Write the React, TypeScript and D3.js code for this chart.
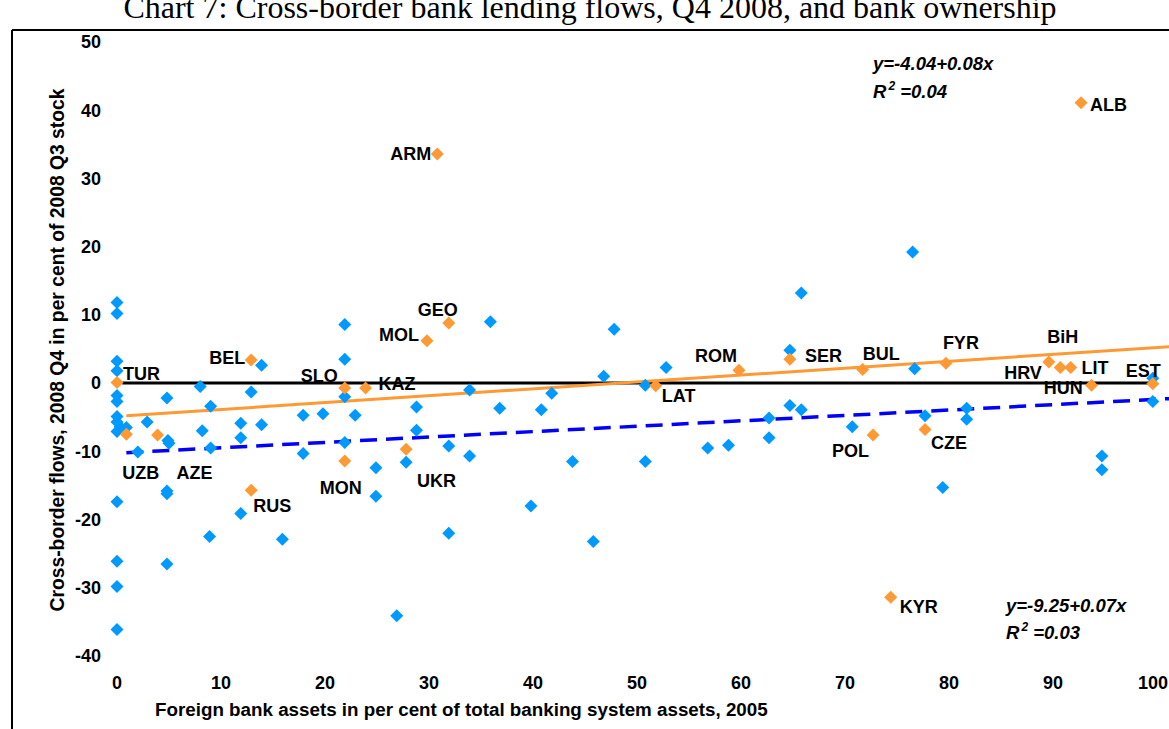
import React from "react";
import * as d3 from "d3";

// ---- data ----
const xTicks = [0, 10, 20, 30, 40, 50, 60, 70, 80, 90, 100];
const yTicks = [-40, -30, -20, -10, 0, 10, 20, 30, 40, 50];

// blue (unlabelled) countries: foreign bank share, cross-border flow
const blueShare = [
  0, 0, 0, 0, 0, 0, 0, 0, 0.3, 0, 0.9, 2.0, 2.9, 4.8, 4.9, 5.0, 8.0, 8.2, 9.0, 9.0,
  11.9, 11.9, 12.9, 13.9, 13.9, 17.9, 17.9, 19.8, 21.9, 21.9, 21.9, 22.9, 21.9, 24.9, 24.9,
  26.9, 27.8, 28.8, 28.8, 31.9, 31.9, 33.9, 33.9, 35.9, 36.8, 39.8, 40.8, 41.8, 43.8, 45.8,
  46.8, 47.8, 50.8, 50.8, 52.8, 56.8, 58.8, 62.7, 62.7, 64.7, 64.7, 65.8, 65.8, 70.7, 76.7,
  76.5, 77.7, 79.4, 81.7, 81.7, 94.7, 94.7, 99.6, 99.6,
  0, 0, 0, 0, 4.8, 4.8, 4.8, 8.9, 11.9, 15.9,
];
const blueFlow = [
  11.8, 10.2, 3.2, 1.8, -1.8, -2.7, -4.9, -5.7, -6.4, -7.1, -6.5, -10.1, -5.7, -2.2, -8.4, -8.8, -0.5, -7.0, -3.4, -9.5,
  -5.9, -8.0, -1.3, 2.6, -6.1, -4.7, -10.3, -4.5, 8.6, 3.5, -2.0, -4.7, -8.7, -12.4, -16.6,
  -34.1, -11.6, -3.5, -6.9, -9.2, -22.0, -1.0, -10.7, 9.0, -3.7, -18.0, -3.9, -1.5, -11.5, -23.2,
  1.0, 7.9, -0.3, -11.5, 2.3, -9.5, -9.1, -5.1, -8.0, 4.8, -3.3, 13.2, -3.9, -6.4, 2.1,
  19.2, -4.8, -15.3, -3.7, -5.3, -10.7, -12.7, 0.7, -2.7,
  -17.4, -26.1, -29.8, -36.1, -15.8, -16.2, -26.5, -22.5, -19.1, -22.9,
];

// orange (labelled) countries
const orangeLabels = [
  "TUR", "UZB", "AZE", "RUS", "BEL", "SLO", "KAZ", "MON", "UKR", "MOL", "GEO", "ARM", "LAT",
  "ROM", "SER", "BUL", "POL", "KYR", "CZE", "FYR", "HRV", "BiH", "HUN", "LIT", "EST", "ALB",
];
const orangeShare = [
  0, 0.9, 3.9, 12.9, 12.9, 21.9, 23.9, 21.9, 27.8, 29.8, 31.9, 30.8, 51.8,
  59.8, 64.7, 71.7, 72.7, 74.4, 77.7, 79.7, 89.6, 90.7, 91.7, 93.7, 99.6, 92.7,
];
const orangeFlow = [
  0.1, -7.5, -7.6, -15.7, 3.4, -0.7, -0.7, -11.4, -9.7, 6.2, 8.8, 33.6, -0.4,
  1.9, 3.5, 2.0, -7.6, -31.4, -6.8, 2.9, 3.1, 2.3, 2.3, -0.3, -0.1, 41.1,
];

// fitted lines as drawn
const orangeFit = { intercept: -4.88, slope: 0.101, from: 0.9, to: 101.3 };
const blueFit = { intercept: -10.27, slope: 0.079, from: 0.9, to: 101.3 };
const zeroLine = { from: 0.5, to: 99.6 };

// ---- layout (label offsets in px relative to marker) ----
const labelOffset: Record<string, [number, number, string]> = {
  TUR: [6, -2, "start"], UZB: [-4, 45, "start"], AZE: [19, 44, "start"], RUS: [2, 22, "start"],
  BEL: [-6, 4, "end"], SLO: [-7, -6, "end"], KAZ: [13, 2, "start"], MON: [-25, 33, "start"],
  UKR: [11, 38, "start"], MOL: [-8, 0, "end"], GEO: [-31, -7, "start"], ARM: [-6, 6, "end"],
  LAT: [6, 16, "start"], ROM: [-44, -8, "start"], SER: [15, 3, "start"], BUL: [0, -9, "start"],
  POL: [-41, 22, "start"], KYR: [9, 16, "start"], CZE: [6, 19, "start"], FYR: [-3, -14, "start"],
  HRV: [-7, 17, "end"], BiH: [-13, -24, "start"], HUN: [-27, 27, "start"], LIT: [-10, -11, "start"],
  EST: [-27, -7, "start"], ALB: [9, 8, "start"],
};

const W = 1169;
const H = 729;
const FONT = "'Liberation Sans', Arial, sans-serif";
const ORANGE = "#FF9933";
const BLUE_PT = "#0099FF";

export default function App() {
  const x = d3.scaleLinear().domain([0, 100]).range([117, 1157]);
  const y = d3.scaleLinear().domain([-40, 50]).range([656, 42]);
  const fitPath = (f: { intercept: number; slope: number; from: number; to: number }) =>
    d3.line<number>().x((v) => x(v)).y((v) => y(f.intercept + f.slope * v))([f.from, f.to]) || "";
  const zeroPath = d3.line<number>().x((v) => x(v)).y(() => y(0))([zeroLine.from, zeroLine.to]) || "";
  const diamondPath = "M0,-6.5L6.5,0L0,6.5L-6.5,0Z";
  const lastTick = xTicks[xTicks.length - 1];

  return (
    <svg width={W} height={H} style={{ position: "absolute", left: 0, top: 0, background: "#fff" }}>
      <rect x={0} y={0} width={W} height={H} fill="#fff" />
      <text x={590} y={18} textAnchor="middle" fontFamily="'Liberation Serif', 'Times New Roman', serif" fontSize={32}>
        Chart 7: Cross-border bank lending flows, Q4 2008, and bank ownership
      </text>
      <line x1={12} y1={30} x2={W} y2={30} stroke="#000" strokeWidth={2} />
      <line x1={12} y1={30} x2={12} y2={H} stroke="#000" strokeWidth={2} />

      {yTicks.map((t) => (
        <text key={"y" + t} x={101} y={y(t)} dy="0.35em" textAnchor="end" fontFamily={FONT} fontWeight="bold" fontSize={18}>
          {t}
        </text>
      ))}
      {xTicks.map((t) => (
        <text key={"x" + t} x={t === lastTick ? W - 1 : x(t)} y={689} textAnchor={t === lastTick ? "end" : "middle"}
          fontFamily={FONT} fontWeight="bold" fontSize={18}>
          {t}
        </text>
      ))}
      <text x={155} y={716} fontFamily={FONT} fontWeight="bold" fontSize={18.8}>
        Foreign bank assets in per cent of total banking system assets, 2005
      </text>
      <text transform={`translate(64,350) rotate(-90)`} textAnchor="middle" fontFamily={FONT} fontWeight="bold" fontSize={19.3}>
        Cross-border flows, 2008 Q4 in per cent of 2008 Q3 stock
      </text>

      <path d={zeroPath} stroke="#000" strokeWidth={3} fill="none" />
      <path d={fitPath(orangeFit)} stroke={ORANGE} strokeWidth={3} fill="none" />
      <path d={fitPath(blueFit)} stroke="#0000FF" strokeWidth={3.5} strokeDasharray="17,9" fill="none" />

      {blueShare.map((v, i) => (
        <path key={"b" + i} d={diamondPath} transform={`translate(${x(v)},${y(blueFlow[i])})`} fill={BLUE_PT} />
      ))}
      {orangeShare.map((v, i) => (
        <path key={"o" + i} d={diamondPath} transform={`translate(${x(v)},${y(orangeFlow[i])})`} fill={ORANGE} />
      ))}
      {orangeLabels.map((lab, i) => {
        const [dx, dy, anchor] = labelOffset[lab];
        return (
          <text key={"l" + lab} x={x(orangeShare[i]) + dx} y={y(orangeFlow[i]) + dy} textAnchor={anchor as any}
            fontFamily={FONT} fontWeight="bold" fontSize={18}>
            {lab}
          </text>
        );
      })}

      <g fontFamily={FONT} fontWeight="bold" fontStyle="italic" fontSize={18.5}>
        <text x={873} y={70}>y=-4.04+0.08x</text>
        <text x={873} y={98}>R<tspan fontSize={12} dx={2} dy={-8}>2</tspan><tspan dy={8}> =0.04</tspan></text>
        <text x={1006} y={612}>y=-9.25+0.07x</text>
        <text x={1006} y={639}>R<tspan fontSize={12} dx={2} dy={-8}>2</tspan><tspan dy={8}> =0.03</tspan></text>
      </g>
    </svg>
  );
}
